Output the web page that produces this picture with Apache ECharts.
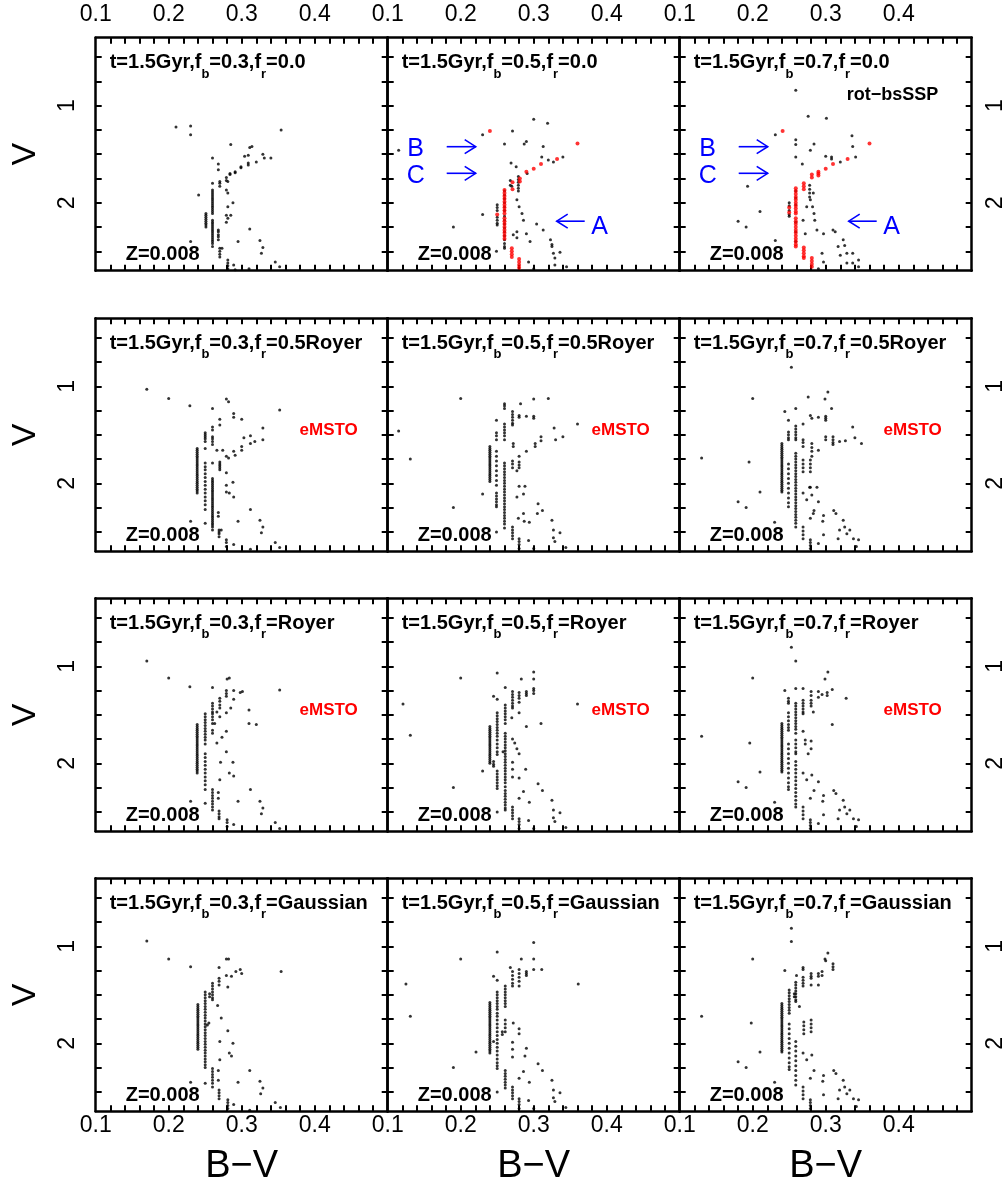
<!DOCTYPE html>
<html><head><meta charset="utf-8">
<script src="https://cdn.jsdelivr.net/npm/echarts@6/dist/echarts.min.js"></script>
<style>html,body{margin:0;padding:0;background:#fff}#c{width:1004px;height:1190px}</style>
</head><body><div id="c"></div>
<script>
// ---------- axes / labels ----------
const xTickLabels = [0.1, 0.2, 0.3, 0.4];
const xMinorTicks = [0.12,0.14,0.16,0.18,0.2,0.22,0.24,0.26,0.28,0.3,0.32,0.34,0.36,0.38,0.4,0.42,0.44,0.46,0.48];
const yTickLabels = [1, 2];
const yMinorTicks = [0.5,0.75,1,1.25,1.5,1.75,2,2.25,2.5];
const fbValues = ['0.3','0.5','0.7'];
const frValues = ['0.0','0.5Royer','Royer','Gaussian'];

// ---------- data: stacks of [B-V, [V values...]] ----------
const p11 = [[0.21,[1.22]],[0.23,[1.21,1.30]],[0.354,[1.25]],[0.285,[1.40]],[0.311,[1.43]],[0.314,[1.42]],
 [0.304,[1.52]],[0.309,[1.51,1.59,1.61]],[0.329,[1.50]],[0.331,[1.54]],[0.340,[1.54]],[0.320,[1.58]],
 [0.299,[1.63,1.64]],[0.291,[1.68,1.69]],[0.284,[1.70,1.71]],[0.279,[1.74,1.77,1.87]],[0.281,[1.78,1.90]],
 [0.270,[1.78,1.80,1.83]],[0.268,[1.60,1.66]],
 [0.26,[1.54,1.80,1.87,1.89,1.91,1.93,1.95,1.97,1.99,2.01,2.03,2.05,2.07,2.09,2.11,2.18,2.20,2.22,2.24,2.26,2.28,2.30,2.32,2.34,2.36,2.38,2.40,2.42,2.45]],
 [0.251,[2.11,2.13,2.15,2.17,2.19,2.21,2.23,2.25]],[0.268,[2.28,2.30,2.33,2.35,2.38]],
 [0.288,[2.0]],[0.281,[2.04,2.16]],[0.279,[2.13,2.20]],[0.285,[2.13]],
 [0.241,[1.92]],[0.23,[2.40]],[0.295,[2.40]],[0.311,[2.27]],[0.325,[2.39]],[0.329,[2.46]],[0.327,[2.52]],
 [0.27,[2.47,2.50,2.53,2.56]],[0.273,[2.47]],[0.281,[2.59,2.62,2.65,2.68]],[0.289,[2.64]],[0.291,[2.69]],
 [0.31,[2.68]],[0.346,[2.61]],[0.352,[2.66]]];
const p12 = [[0.115,[1.46]],[0.300,[1.14]],[0.319,[1.18]],[0.230,[1.30]],[0.271,[1.26]],[0.26,[1.395]],[0.287,[1.395]],[0.290,[1.37]],[0.313,[1.42]],
 [0.340,[1.53]],[0.327,[1.58]],[0.320,[1.56]],[0.311,[1.53]],[0.291,[1.70]],[0.270,[1.83]],[0.279,[1.73,1.76,1.79,1.82,1.85,1.88]],
 [0.269,[1.59]],[0.276,[1.63]],[0.26,[1.88,1.92,1.96,2.0,2.04,2.08,2.14,2.18,2.22,2.26,2.30,2.34,2.38,2.42,2.45,2.47]],
 [0.250,[2.02,2.05,2.08,2.15,2.18,2.21,2.23]],[0.230,[2.12]],[0.190,[2.25]],
 [0.277,[1.97,2.30,2.36]],[0.280,[2.04]],[0.284,[2.11]],[0.286,[2.18]],[0.290,[2.32]],[0.295,[2.40]],[0.304,[2.22]],[0.313,[2.28]],
 [0.323,[2.38]],[0.325,[2.43,2.45]],[0.327,[2.52]],[0.336,[2.51]],[0.329,[2.57,2.64]],[0.345,[2.66]],[0.293,[2.61]],[0.300,[2.68]],
 [0.268,[1.77,1.82]],[0.249,[2.50]],[0.272,[2.33]]];
const p12Red = [[0.240,[1.26]],[0.360,[1.39]],[0.332,[1.55]],[0.310,[1.60]],[0.300,[1.65]],[0.290,[1.68]],[0.281,[1.75,1.78]],[0.271,[1.79,1.86]],
 [0.26,[1.87,1.90,1.93,1.96,1.99,2.02,2.05,2.08,2.11,2.16,2.19,2.22,2.25,2.28,2.31,2.34,2.37]],[0.250,[2.12]],
 [0.270,[2.47,2.50,2.53,2.56]],[0.280,[2.58,2.61,2.64,2.67]]];
const p13 = [[0.259,[0.84,1.35,1.40,1.53,1.88,1.95,2.02,2.20,2.30,2.40]],[0.276,[1.11]],[0.301,[1.13]],[0.231,[1.30,2.39]],[0.284,[1.395,2.11]],
 [0.336,[1.31]],[0.337,[1.42,2.52,2.62]],[0.279,[1.46,1.97]],[0.30,[1.52]],[0.308,[1.53,1.55]],[0.341,[1.53]],[0.320,[1.58,2.54]],
 [0.268,[1.60]],[0.278,[1.82,1.86,1.90,1.94]],[0.193,[1.83]],[0.250,[2.00,2.03,2.08,2.12,2.14]],[0.210,[2.09]],[0.180,[2.19]],[0.191,[2.25]],
 [0.29,[2.68]],[0.282,[2.04]],[0.285,[2.18]],[0.288,[2.28]],[0.297,[2.32,2.61]],[0.310,[2.28]],[0.313,[2.30]],[0.324,[2.38]],[0.326,[2.44]],
 [0.317,[2.45]],[0.329,[2.52,2.62]],[0.345,[2.59,2.66]],[0.295,[2.52]],[0.283,[1.90]],[0.274,[2.04]],[0.269,[2.18]],[0.272,[2.32]]];
const p13Red = [[0.241,[1.26]],[0.360,[1.39]],[0.330,[1.55]],[0.310,[1.60]],[0.300,[1.65]],[0.290,[1.68,1.70,1.72]],[0.281,[1.71,1.74]],
 [0.270,[1.80,1.83,1.86,2.46,2.49,2.52,2.55,2.57]],
 [0.259,[1.85,1.88,1.91,1.94,1.97,2.00,2.03,2.06,2.09,2.11,2.16,2.19,2.22,2.25,2.28,2.31,2.34,2.37,2.40,2.43,2.45]],
 [0.250,[2.05,2.10]],[0.281,[2.57,2.60,2.63,2.66]]];
const p21 = [[0.170,[1.03]],[0.200,[1.125]],[0.229,[1.20]],
 [0.260,[1.23,1.42,1.45,1.52,1.54,1.57,1.60,1.79,1.95,1.97,1.99,2.01,2.03,2.05,2.07,2.09,2.11,2.13,2.15,2.17,2.19,2.21,2.23,2.25,2.27,2.29,2.31,2.33,2.35,2.37,2.39,2.41,2.43,2.45,2.48]],
 [0.279,[1.13,1.72,1.89,2.02,2.09]],[0.282,[1.16,1.74]],[0.289,[1.28,1.32,1.67,2.14]],[0.270,[1.34,1.40,1.78,1.80,1.82,1.84,1.86]],[0.300,[1.34,1.62,1.66]],
 [0.352,[1.245,2.66]],[0.329,[1.43,1.55,2.45]],
 [0.250,[1.48,1.50,1.52,1.54,1.57,1.64,1.79,1.83,1.86,1.90,1.94,1.98,2.02,2.06,2.10,2.14,2.18,2.22,2.27,2.41]],
 [0.266,[1.66]],[0.274,[1.66]],[0.303,[1.53]],[0.312,[1.51,1.59,2.27,2.68]],[0.318,[1.57]],[0.291,[1.71]],
 [0.239,[1.64,1.66,1.68,1.70,1.72,1.74,1.76,1.78,1.80,1.82,1.84,1.86,1.88,1.90,1.92,1.94,1.96,1.98,2.00,2.02,2.04,2.06,2.08,2.10]],
 [0.288,[1.99]],[0.283,[2.10]],[0.268,[2.30,2.34]],[0.295,[2.39]],[0.325,[2.38]],[0.327,[2.51]],[0.230,[2.39]],
 [0.269,[2.48,2.50,2.52,2.55]],[0.272,[2.48]],[0.279,[2.58,2.61,2.65]],[0.289,[2.63]],[0.346,[2.61]]];
const p22 = [[0.115,[1.46]],[0.131,[1.75]],[0.200,[1.125]],[0.190,[2.25]],[0.230,[2.11]],
 [0.260,[1.18,1.20,1.23,1.39,1.42,1.45,1.48,1.51,1.55,1.79,1.82,1.85,1.88,1.91,1.94,1.97,2.00,2.03,2.06,2.09,2.12,2.15,2.18,2.21,2.24,2.27,2.30,2.33,2.36,2.39,2.42,2.46]],
 [0.271,[1.26,1.29,1.32,1.35,1.38,1.40,1.77,1.80,1.84,2.45,2.48,2.51,2.54,2.57]],
 [0.282,[1.18]],[0.300,[1.13,1.31,1.33,2.67]],[0.320,[1.125]],[0.280,[1.30,1.32,1.72,1.78,1.81,1.84,2.03,2.57,2.60,2.63,2.67]],[0.290,[1.31]],
 [0.249,[1.35,1.48,1.51,1.55,1.67,1.72,1.77,1.82,1.87,1.92,1.97,2.02,2.10,2.13,2.16,2.19,2.22,2.24,2.50]],
 [0.328,[1.43]],[0.360,[1.39]],[0.340,[1.52]],[0.310,[1.52,1.56]],[0.330,[1.55]],[0.302,[1.59,1.62]],[0.290,[1.67]],[0.272,[1.59,1.62]],
 [0.240,[1.62,1.64,1.66,1.68,1.70,1.72,1.74,1.76,1.78,1.80,1.82,1.84,1.86,1.88,1.90,1.92,1.94,1.96,1.98]],
 [0.277,[1.87,2.14]],[0.288,[2.03]],[0.286,[2.11,2.31]],[0.306,[2.21]],[0.312,[2.28]],[0.305,[2.31]],[0.279,[2.36]],[0.287,[2.39]],[0.294,[2.40]],
 [0.325,[2.38]],[0.327,[2.48,2.56]],[0.336,[2.51]],[0.329,[2.60]],[0.344,[2.66]],[0.293,[2.59]]];
const p23 = [[0.253,[0.805]],[0.200,[1.125]],[0.276,[1.11]],[0.303,[1.06]],[0.299,[1.13]],[0.308,[1.23]],
 [0.259,[1.23,1.41,1.44,1.47,1.50,1.53,1.55,1.69,1.72,1.75,1.78,1.81,1.84,1.87,1.90,1.93,1.96,1.99,2.02,2.05,2.08,2.11,2.14,2.17,2.20,2.23,2.26,2.29,2.32,2.35,2.38,2.41,2.45]],
 [0.244,[1.26]],[0.279,[1.30,1.76,1.80,1.84,1.88,2.04,2.36,2.58,2.61,2.64,2.67]],[0.281,[1.33,1.59,1.63,1.67,1.72,2.12]],[0.290,[1.32,1.66,2.19,2.62]],
 [0.300,[1.31,1.33,1.35,1.52,1.55]],[0.249,[1.35,1.47,1.50,1.53,1.55,1.80,1.85,1.90,1.95,2.00,2.05,2.10,2.15,2.20,2.24]],
 [0.269,[1.39,1.55,1.58,1.62,1.76,1.80,1.84,1.88,2.10,2.45,2.49,2.53,2.57]],
 [0.337,[1.42]],[0.340,[1.53]],[0.349,[1.59]],[0.327,[1.56]],[0.310,[1.52,1.55,1.58,1.60]],[0.319,[1.57]],
 [0.240,[1.59,1.61,1.63,1.65,1.67,1.69,1.71,1.73,1.75,1.77,1.79,1.81,1.83,1.85,1.87,1.89,1.91,1.93,1.95,1.97,1.99,2.01,2.03,2.05,2.07,2.09]],
 [0.130,[1.74]],[0.195,[1.78]],[0.210,[2.09]],[0.180,[2.19]],[0.191,[2.25]],[0.230,[2.40]],
 [0.274,[2.17]],[0.278,[2.04]],[0.288,[2.04]],[0.284,[2.28]],[0.283,[2.31]],[0.297,[2.33,2.53]],[0.296,[2.39]],[0.311,[2.28]],[0.314,[2.31]],
 [0.324,[2.38]],[0.326,[2.45]],[0.319,[2.48]],[0.329,[2.52]],[0.333,[2.48]],[0.338,[2.57]],[0.317,[2.57]],[0.345,[2.58]],[0.342,[2.65]]];
const p31 = [[0.170,[0.947]],[0.200,[1.12]],[0.229,[1.21]],
 [0.260,[1.22,1.38,1.41,1.44,1.47,1.49,1.52,1.55,1.59,1.66,1.69,2.27,2.30,2.33,2.36,2.39,2.42,2.45,2.48]],[0.280,[1.13]],[0.283,[1.12]],
 [0.279,[1.25,1.28,1.31,1.48,1.67,1.88]],[0.289,[1.25,1.34,2.13]],[0.298,[1.27]],[0.301,[1.26]],[0.352,[1.245,2.67]],
 [0.270,[1.33,1.36,1.40,1.43,1.52,2.17]],[0.285,[1.43]],[0.266,[1.47,1.79]],
 [0.250,[1.49,1.52,1.55,1.58,1.61,1.64,1.67,1.70,1.73,1.76,1.80,1.90,1.94,1.98,2.02,2.06,2.10,2.14,2.18,2.22,2.27,2.41]],
 [0.263,[1.59]],[0.310,[1.45,1.59]],[0.320,[1.60]],[0.273,[1.73]],
 [0.239,[1.60,1.62,1.64,1.66,1.68,1.70,1.72,1.74,1.76,1.78,1.80,1.82,1.84,1.86,1.88,1.90,1.92,1.94,1.96,1.98,2.00,2.02,2.04,2.06,2.08,2.10]],
 [0.271,[1.99]],[0.288,[1.99]],[0.283,[2.10]],[0.312,[2.27]],[0.268,[2.30,2.36]],[0.295,[2.39]],[0.325,[2.39]],[0.329,[2.46]],[0.327,[2.52]],
 [0.230,[2.39]],[0.269,[2.49,2.52,2.55,2.57]],[0.28,[2.58,2.61,2.65]],[0.289,[2.63]],[0.346,[2.61]]];
const p32 = [[0.121,[1.39]],[0.131,[1.71]],[0.200,[1.12]],[0.190,[2.25]],[0.230,[2.08]],
 [0.250,[1.07,1.34,1.48,1.51,1.54,1.57,1.60,1.63,1.66,1.69,1.72,1.76,1.80,1.84,1.88,1.91,2.08,2.11,2.14,2.17,2.20,2.23,2.26,2.50]],
 [0.300,[1.06,1.13,1.23,1.25,1.28,2.67]],[0.283,[1.13]],[0.290,[1.26,1.28,1.30,1.62]],
 [0.280,[1.27,1.30,1.33,1.37,1.48,1.90,2.15,2.36,2.57,2.60,2.63,2.67]],
 [0.271,[1.26,1.29,1.32,1.35,1.38,1.41,1.43,1.75,1.99,2.06,2.14,2.45,2.48,2.51,2.54,2.57]],
 [0.261,[1.22,1.40,1.43,1.46,1.49,1.52,1.55,1.59,1.69,1.72,1.75,1.78,1.81,1.84,1.87,1.90,1.93,1.96,1.99,2.02,2.05,2.08,2.11,2.14,2.17,2.20,2.24,2.28,2.31,2.34,2.37,2.40,2.43,2.46,2.48]],
 [0.245,[1.31,1.98,2.01,2.03]],[0.270,[1.53]],[0.360,[1.39]],[0.310,[1.59]],
 [0.240,[1.62,1.64,1.66,1.68,1.70,1.72,1.74,1.76,1.78,1.80,1.82,1.84,1.86,1.88,1.90,1.92,1.94,1.96,1.98,2.00]],
 [0.274,[1.79]],[0.277,[1.85]],[0.258,[1.88]],[0.289,[2.06]],[0.306,[2.21]],[0.312,[2.28]],[0.286,[2.29]],[0.294,[2.40]],[0.325,[2.38]],
 [0.327,[2.48,2.56]],[0.336,[2.51]],[0.329,[2.60]],[0.344,[2.66]],[0.293,[2.59]]];
const p33 = [[0.253,[0.805]],
 [0.259,[0.946,1.23,1.38,1.41,1.44,1.47,1.50,1.53,1.56,1.59,1.62,1.65,1.69,1.76,1.80,1.84,1.88,1.90,1.98,2.02,2.06,2.10,2.14,2.18,2.22,2.26,2.30,2.34,2.38,2.42,2.45]],
 [0.200,[1.12]],[0.303,[1.06]],[0.299,[1.13]],[0.309,[1.24,1.60]],[0.244,[1.25]],
 [0.269,[1.23,1.35,1.38,1.41,1.44,1.47,1.49,1.67,2.10,2.45,2.49,2.53,2.57]],
 [0.280,[1.26,1.30,1.35,1.38,1.41,1.77,1.85]],[0.290,[1.26,1.32,2.19,2.62]],[0.295,[1.29]],[0.302,[1.27,1.30]],[0.328,[1.33]],
 [0.249,[1.33,1.36,1.38,1.48,1.52,1.56,1.60,1.63,1.66,1.80,1.85,1.90,1.95,2.00,2.05,2.10,2.15,2.20,2.24,2.27]],[0.283,[1.47]],
 [0.240,[1.59,1.61,1.63,1.65,1.67,1.69,1.71,1.73,1.75,1.77,1.79,1.81,1.83,1.85,1.87,1.89,1.91,1.93,1.95,1.97,1.99,2.01,2.03,2.05,2.07,2.09]],
 [0.130,[1.72]],[0.196,[1.79]],[0.210,[2.09]],[0.180,[2.19]],[0.191,[2.25]],[0.230,[2.40]],[0.272,[1.76,1.80]],[0.276,[1.90]],
 [0.274,[2.17]],[0.281,[2.12]],[0.279,[2.36,2.58,2.61,2.64,2.67]],[0.297,[2.33,2.53]],[0.296,[2.39]],[0.311,[2.28]],[0.314,[2.31]],
 [0.324,[2.38]],[0.326,[2.45]],[0.319,[2.48]],[0.329,[2.52]],[0.333,[2.48]],[0.338,[2.57]],[0.317,[2.57]],[0.345,[2.58]],[0.342,[2.65]],[0.284,[2.28]]];
const p41 = [[0.170,[0.947]],[0.200,[1.13]],[0.230,[1.21,2.40]],[0.269,[1.22,1.33,1.36,1.40,2.48,2.51,2.54,2.57]],[0.279,[1.13,1.30]],[0.282,[1.13]],
 [0.292,[1.26]],[0.298,[1.24]],[0.300,[1.28]],[0.354,[1.26]],[0.286,[1.31,2.13]],
 [0.260,[1.38,1.41,1.44,1.47,1.50,1.53,1.55,2.26,2.29,2.32,2.35,2.38,2.41,2.45]],[0.281,[1.42,1.87,2.58,2.61,2.64,2.67]],
 [0.250,[1.47,1.50,1.53,1.56,1.59,1.62,1.65,1.68,1.71,1.74,1.77,1.80,1.83,1.86,1.89,1.92,1.95,1.98,2.01,2.04,2.07,2.10,2.13,2.16,2.19,2.22,2.25,2.41]],
 [0.256,[1.49,1.52]],[0.267,[1.61]],
 [0.240,[1.60,1.62,1.64,1.66,1.68,1.70,1.72,1.74,1.76,1.78,1.80,1.82,1.84,1.86,1.88,1.90,1.92,1.94,1.96,1.98,2.00,2.02,2.04,2.06]],
 [0.255,[1.79]],[0.253,[1.81]],[0.272,[1.74]],[0.270,[1.98,2.17]],[0.288,[2.00]],[0.283,[2.10]],[0.311,[2.28,2.69]],[0.268,[2.28,2.38]],
 [0.295,[2.40]],[0.325,[2.39]],[0.329,[2.46]],[0.326,[2.52]],[0.289,[2.63]],[0.346,[2.61]],[0.353,[2.66]]];
const p42 = [[0.125,[1.39]],[0.131,[1.72]],[0.200,[1.13]],[0.190,[2.25]],[0.221,[2.09]],
 [0.250,[1.06,1.35,1.47,1.50,1.53,1.56,1.59,1.62,1.65,1.69,1.72,1.76,1.80,1.84,1.88,1.92,1.96,2.00,2.04,2.08,2.12,2.16,2.20,2.23,2.26,2.50]],
 [0.300,[0.96,1.13,1.24,2.67]],[0.283,[1.13]],[0.311,[1.24]],[0.290,[1.26,1.28,1.30,2.05]],
 [0.280,[1.24,1.28,1.32,1.36,1.41,1.85,1.90,2.36,2.57,2.60,2.63,2.67]],
 [0.271,[1.26,1.30,1.34,1.38,1.41,1.99,2.06,2.14,2.45,2.48,2.51,2.54,2.57]],[0.268,[1.22]],[0.245,[1.31,1.98]],
 [0.261,[1.41,1.44,1.47,1.50,1.53,1.56,1.59,1.62,1.76,1.80,1.84,1.88,2.28,2.31,2.34,2.37,2.40,2.43,2.46]],[0.361,[1.39]],
 [0.240,[1.58,1.60,1.62,1.64,1.66,1.68,1.70,1.72,1.74,1.76,1.78,1.80,1.82,1.84,1.86,1.88,1.90,1.92,1.94,1.96,1.98,2.00,2.02,2.04,2.06,2.08,2.10]],
 [0.272,[1.79]],[0.257,[1.88,1.91]],[0.288,[2.13]],[0.306,[2.21]],[0.312,[2.28]],[0.286,[2.29]],[0.294,[2.40]],[0.325,[2.38]],
 [0.327,[2.48,2.56]],[0.336,[2.51]],[0.329,[2.60]],[0.344,[2.66]],[0.293,[2.59]]];
const p43 = [[0.253,[0.815,0.95]],[0.200,[1.13]],[0.303,[1.07]],[0.299,[1.13]],[0.300,[1.15]],[0.310,[1.18,1.21,1.24]],[0.244,[1.25]],
 [0.269,[1.22,1.24,1.32,1.35,1.38,1.41,2.10,2.45,2.49,2.53,2.57]],[0.260,[1.30]],[0.280,[1.28,1.31,1.33,1.40,1.76,1.80,1.84,1.88]],
 [0.290,[1.28,1.31,1.40]],[0.295,[1.26,1.30]],
 [0.259,[1.37,1.40,1.43,1.46,1.49,1.52,1.55,1.57,1.98,2.03,2.08,2.13,2.18,2.23,2.28,2.33,2.38,2.43]],
 [0.250,[1.45,1.48,1.51,1.54,1.57,1.60,1.63,1.66,1.69,1.80,1.85,1.90,1.95,2.00,2.05,2.10,2.15,2.20,2.24,2.27]],[0.257,[1.49,1.52]],[0.264,[1.62]],
 [0.240,[1.59,1.61,1.63,1.65,1.67,1.69,1.71,1.73,1.75,1.77,1.79,1.81,1.83,1.85,1.87,1.89,1.91,1.93,1.95,1.97,1.99,2.01,2.03,2.05,2.07,2.09]],
 [0.130,[1.72]],[0.198,[1.79]],[0.210,[2.09]],[0.180,[2.19]],[0.191,[2.25]],[0.230,[2.40]],[0.270,[1.78,1.82,1.86,1.90]],
 [0.274,[2.17]],[0.281,[2.12]],[0.279,[2.36,2.58,2.61,2.64,2.67]],[0.297,[2.33,2.53]],[0.296,[2.39]],[0.311,[2.28]],[0.314,[2.31]],
 [0.324,[2.38]],[0.326,[2.45]],[0.319,[2.48]],[0.329,[2.52]],[0.333,[2.48]],[0.338,[2.57]],[0.317,[2.57]],[0.345,[2.58]],[0.342,[2.65]],[0.284,[2.28]]];

const panels = [[p11,p12,p13],[p21,p22,p23],[p31,p32,p33],[p41,p42,p43]];
const redPanels = {'0,1': p12Red, '0,2': p13Red};

// ---------- layout ----------
const GL = [95.7, 387.7, 679.7], GT = [37.7, 318.3, 598.3, 878.3], GW = 292, GH = 233;
const FF = '"Liberation Sans", Arial, Helvetica, sans-serif';
const BLACK = '#000';

function flat(stacks){ const out=[]; stacks.forEach(s => s[1].forEach(v => out.push([s[0], v]))); return out; }

function xAx(gi, pos, show, name){
  return {type:'value', gridIndex:gi, position:pos, min:0.1, max:0.5,
    name: name || '', nameLocation:'middle', nameGap:36,
    nameTextStyle:{fontSize:38, fontFamily:FF, color:BLACK},
    axisLine:{show:true, onZero:false, lineStyle:{color:BLACK, width:2.5}},
    axisTick:{show:true, inside:true, length:6, customValues:xMinorTicks, lineStyle:{color:BLACK, width:2}},
    axisLabel:{show:show, customValues:xTickLabels, fontSize:23, fontFamily:FF, color:BLACK,
      margin: pos==='top' ? 12 : 3, formatter: v => v.toFixed(1)},
    splitLine:{show:false}};
}
function yAx(gi, pos, show, name){
  return {type:'value', gridIndex:gi, position:pos, min:0.3, max:2.7, inverse:true,
    name: name || '', nameLocation:'middle', nameGap:53, nameRotate:90,
    nameTextStyle:{fontSize:34, fontFamily:FF, color:BLACK},
    axisLine:{show:true, onZero:false, lineStyle:{color:BLACK, width:2.5}},
    axisTick:{show:true, inside:true, length:6, customValues:yMinorTicks, lineStyle:{color:BLACK, width:2}},
    axisLabel:{show:show, customValues:yTickLabels, rotate:90, fontSize:23, fontFamily:FF, color:BLACK,
      margin: pos==='left' ? 17 : 12},
    splitLine:{show:false}};
}

const grids=[], xAxes=[], yAxes=[], series=[], graphics=[];
for (let r=0; r<4; r++){
  for (let c=0; c<3; c++){
    const k = r*3+c;
    grids.push({left:GL[c], top:GT[r], width:GW, height:GH, show:false, containLabel:false, outerBoundsMode:'none'});
    xAxes.push(xAx(k,'bottom', r===3, r===3 ? 'B\u2212V' : ''));
    xAxes.push(xAx(k,'top', r===0));
    yAxes.push(yAx(k,'left', c===0, c===0 ? 'V' : ''));
    yAxes.push(yAx(k,'right', c===2));
    series.push({type:'scatter', xAxisIndex:2*k, yAxisIndex:2*k, data:flat(panels[r][c]),
      symbol:'circle', symbolSize:3, itemStyle:{color:BLACK}, silent:true, z:2});
    const red = redPanels[r+','+c];
    if (red) series.push({type:'scatter', xAxisIndex:2*k, yAxisIndex:2*k, data:flat(red),
      symbol:'circle', symbolSize:4, itemStyle:{color:'#ff0000'}, silent:true, z:3});

    // panel title
    graphics.push({type:'text', x:GL[c]+14, y:GT[r]+29, z:10, silent:true,
      style:{text:'{m|t=1.5Gyr,f}{s|b}{m|='+fbValues[c]+',f}{s|r}{m|='+frValues[r]+'}',
        textAlign:'left', textVerticalAlign:'middle', fill:BLACK,
        rich:{m:{font:'bold 20px '+FF, lineHeight:28, verticalAlign:'top', fill:BLACK},
              s:{font:'bold 13px '+FF, lineHeight:18, verticalAlign:'bottom', fill:BLACK}}}});
    // metallicity
    graphics.push({type:'text', x:GL[c]+30, y:GT[r]+217, z:10, silent:true,
      style:{text:'Z=0.008', font:'bold 20px '+FF, fill:BLACK, textAlign:'left', textVerticalAlign:'middle'}});
    if (r===1 || r===2){
      graphics.push({type:'text', x:GL[c]+233, y:GT[r]+112, z:10, silent:true,
        style:{text:'eMSTO', font:'bold 17px '+FF, fill:'#ff0000', textAlign:'center', textVerticalAlign:'middle'}});
    }
  }
}
graphics.push({type:'text', x:GL[2]+167, y:GT[0]+57, z:10, silent:true,
  style:{text:'rot\u2212bsSSP', font:'bold 18px '+FF, fill:BLACK, textAlign:'left', textVerticalAlign:'middle'}});

function arrow(x1, x2, y){
  const d = x2 > x1 ? 1 : -1;
  graphics.push({type:'polyline', z:10, silent:true, shape:{points:[[x1,y],[x2,y]]}, style:{stroke:'#0000ff', lineWidth:1.6, fill:null}});
  graphics.push({type:'polyline', z:10, silent:true, shape:{points:[[x2-11*d,y-7],[x2,y],[x2-11*d,y+7]]}, style:{stroke:'#0000ff', lineWidth:1.6, fill:null}});
}
[1,2].forEach(c => {
  const L = GL[c], T = GT[0];
  graphics.push({type:'text', x:L+28, y:T+111.5, z:10, silent:true, style:{text:'B', font:'25px '+FF, fill:'#0000ff', textAlign:'center', textVerticalAlign:'middle'}});
  graphics.push({type:'text', x:L+28, y:T+138, z:10, silent:true, style:{text:'C', font:'25px '+FF, fill:'#0000ff', textAlign:'center', textVerticalAlign:'middle'}});
  graphics.push({type:'text', x:L+212, y:T+189, z:10, silent:true, style:{text:'A', font:'25px '+FF, fill:'#0000ff', textAlign:'center', textVerticalAlign:'middle'}});
  arrow(L+59, L+88, T+109);
  arrow(L+59, L+88, T+135.6);
  arrow(L+197, L+169, T+183.5);
});

const chart = echarts.init(document.getElementById('c'), null, {renderer:'canvas'});
chart.setOption({
  animation:false, backgroundColor:'#fff',
  grid:grids, xAxis:xAxes, yAxis:yAxes, series:series, graphic:graphics
});
</script></body></html>
